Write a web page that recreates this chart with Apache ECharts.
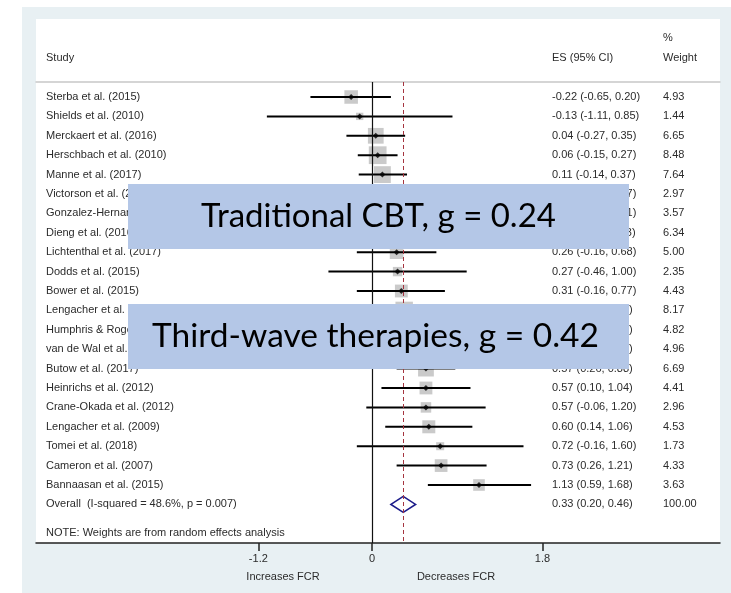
<!DOCTYPE html>
<html><head><meta charset="utf-8">
<script src="https://cdn.jsdelivr.net/npm/echarts@6/dist/echarts.min.js"></script>
<style>html,body{margin:0;padding:0;background:#fff}#c{width:731px;height:593px}</style>
</head><body><div id="c"></div>
<script>
// ---------- data ----------
const studies = [
  'Sterba et al. (2015)', 'Shields et al. (2010)', 'Merckaert et al. (2016)', 'Herschbach et al. (2010)',
  'Manne et al. (2017)', 'Victorson et al. (2016)', 'Gonzalez-Hernandez et al. (2018)', 'Dieng et al. (2016)',
  'Lichtenthal et al. (2017)', 'Dodds et al. (2015)', 'Bower et al. (2015)', 'Lengacher et al. (2016)',
  'Humphris & Rogers (2012)', 'van de Wal et al. (2017)', 'Butow et al. (2017)', 'Heinrichs et al. (2012)',
  'Crane-Okada et al. (2012)', 'Lengacher et al. (2009)', 'Tomei et al. (2018)', 'Cameron et al. (2007)',
  'Bannaasan et al. (2015)'
];
const es = [-0.22, -0.13, 0.04, 0.06, 0.11, 0.15, 0.19, 0.21, 0.26, 0.27, 0.31, 0.34, 0.45, 0.49, 0.57, 0.57, 0.57, 0.60, 0.72, 0.73, 1.13];
const ciLow = [-0.65, -1.11, -0.27, -0.15, -0.14, -0.47, -0.43, -0.11, -0.16, -0.46, -0.16, 0.09, 0.02, 0.07, 0.26, 0.10, -0.06, 0.14, -0.16, 0.26, 0.59];
const ciHigh = [0.20, 0.85, 0.35, 0.27, 0.37, 0.77, 0.81, 0.53, 0.68, 1.00, 0.77, 0.59, 0.88, 0.91, 0.88, 1.04, 1.20, 1.06, 1.60, 1.21, 1.68];
const weights = [4.93, 1.44, 6.65, 8.48, 7.64, 2.97, 3.57, 6.34, 5.00, 2.35, 4.43, 8.17, 4.82, 4.96, 6.69, 4.41, 2.96, 4.53, 1.73, 4.33, 3.63];
const overallEs = 0.33, overallLow = 0.20, overallHigh = 0.46, overallWeight = 100.00;
const overallLabel = 'Overall  (I-squared = 48.6%, p = 0.007)';
const noteText = 'NOTE: Weights are from random effects analysis';
const xTicks = [-1.2, 0, 1.8];
const overlayTexts = ['Traditional CBT, g = 0.24', 'Third-wave therapies, g = 0.42'];

// ---------- layout ----------
const FONT = '"Liberation Sans", Arial, sans-serif';
const TXT = '#2b2b2b';
const ROW_Y0 = 97, ROW_H = 19.4, GRID_TOP = 82, AXIS_Y = 543;
const yMin = (GRID_TOP - ROW_Y0) / ROW_H, yMax = (AXIS_Y - ROW_Y0) / ROW_H;
const X_MIN = -3.548, X_MAX = 3.675;
const COL_NAME = 46, COL_ES = 552, COL_W = 663;
const fmt = v => v.toFixed(2);
const esText = es.map((v, i) => fmt(v) + ' (' + fmt(ciLow[i]) + ', ' + fmt(ciHigh[i]) + ')');
const rows = studies.map((s, i) => i);
const overallRow = studies.length;

const chart = echarts.init(document.getElementById('c'));

function txt(x, y, text, extra) {
  return {
    type: 'text',
    style: Object.assign({
      x, y, text, fill: TXT, font: '11px ' + FONT,
      align: 'left', verticalAlign: 'middle', textAlign: 'left', textVerticalAlign: 'middle'
    }, extra || {})
  };
}

const option = {
  animation: false,
  grid: { left: 36, right: 11, top: GRID_TOP, bottom: 593 - AXIS_Y },
  xAxis: [{
    type: 'value', min: X_MIN, max: X_MAX, position: 'bottom',
    axisLine: { show: true, onZero: false, lineStyle: { color: '#222', width: 1.5 } },
    splitLine: { show: false },
    axisTick: { show: true, customValues: xTicks, length: 8, lineStyle: { color: '#222', width: 1.5 } },
    axisLabel: { customValues: xTicks, formatter: v => String(v), color: TXT, fontSize: 11, fontFamily: FONT, margin: 10 }
  }, {
    type: 'value', position: 'top', min: X_MIN, max: X_MAX,
    axisLine: { show: true, onZero: false, lineStyle: { color: '#c8c8c8', width: 1.5 } },
    axisTick: { show: false }, axisLabel: { show: false }, splitLine: { show: false }
  }],
  yAxis: { type: 'value', inverse: true, min: yMin, max: yMax, show: false },
  graphic: [
    { type: 'rect', z: -10, shape: { x: 22, y: 7, width: 709, height: 586 }, style: { fill: '#e8f0f3' } },
    { type: 'rect', z: -9, shape: { x: 36, y: 19, width: 684, height: AXIS_Y - 19 }, style: { fill: '#ffffff' } },
    txt(COL_NAME, 58, 'Study'),
    txt(COL_ES, 58, 'ES (95% CI)'),
    txt(COL_W, 38, '%'),
    txt(COL_W, 58, 'Weight'),
    txt(COL_NAME, 533, noteText),
    txt(283, 577, 'Increases FCR', { align: 'center', textAlign: 'center' }),
    txt(456, 577, 'Decreases FCR', { align: 'center', textAlign: 'center' }),
    { type: 'rect', z: 100, shape: { x: 128, y: 184, width: 501, height: 65 }, style: { fill: '#b4c7e7' } },
    Object.assign(txt(378.5, 216, overlayTexts[0], { align: 'center', textAlign: 'center', fill: '#000', font: '33px Lato, sans-serif' }), { z: 101 }),
    { type: 'rect', z: 100, shape: { x: 128, y: 304, width: 501, height: 65 }, style: { fill: '#b4c7e7' } },
    Object.assign(txt(375.5, 336, overlayTexts[1], { align: 'center', textAlign: 'center', fill: '#000', font: '33.5px Lato, sans-serif' }), { z: 101 })
  ],
  series: [
    {
      type: 'scatter', z: 2,
      data: rows.map(i => [es[i], i, weights[i]]),
      symbol: 'rect',
      symbolSize: d => 6.1 * Math.sqrt(d[2]),
      itemStyle: { color: '#bdbdbd' },
      silent: true,
      markLine: {
        silent: true, symbol: 'none', label: { show: false },
        data: [
          { xAxis: 0, lineStyle: { color: '#111', width: 1.2, type: 'solid' } },
          { xAxis: overallEs, lineStyle: { color: '#a5343f', width: 1, type: [4, 3] } }
        ]
      }
    },
    {
      type: 'custom', z: 3, clip: false,
      data: rows.map(i => [ciLow[i], ciHigh[i], i]),
      encode: { x: [0, 1], y: 2 },
      renderItem: (params, api) => {
        const a = api.coord([api.value(0), api.value(2)]);
        const b = api.coord([api.value(1), api.value(2)]);
        return { type: 'line', shape: { x1: a[0], y1: a[1], x2: b[0], y2: b[1] }, style: { stroke: '#000', lineWidth: 2 } };
      }
    },
    {
      type: 'scatter', z: 4,
      data: rows.map(i => [es[i], i]),
      symbol: 'diamond', symbolSize: 6,
      itemStyle: { color: '#000' }
    },
    {
      type: 'custom', z: 4, clip: false,
      data: [[overallLow, overallEs, overallHigh, overallRow]],
      encode: { x: [0, 1, 2], y: 3 },
      renderItem: (params, api) => {
        const r = api.value(3);
        const l = api.coord([api.value(0), r]);
        const c = api.coord([api.value(1), r]);
        const h = api.coord([api.value(2), r]);
        const half = 8;
        return {
          type: 'polygon',
          shape: { points: [[l[0], l[1]], [c[0], c[1] - half], [h[0], h[1]], [c[0], c[1] + half]] },
          style: { fill: 'rgba(255,255,255,0)', stroke: '#1c1c8a', lineWidth: 1.6 }
        };
      }
    },
    {
      type: 'custom', z: 5, clip: false,
      data: rows.map(i => [0, i]).concat([[0, overallRow]]),
      encode: { x: 0, y: 1 },
      renderItem: (params, api) => {
        const i = api.value(1);
        const y = api.coord([0, i])[1];
        const isOverall = i === overallRow;
        const name = isOverall ? overallLabel : studies[i];
        const e = isOverall ? fmt(overallEs) + ' (' + fmt(overallLow) + ', ' + fmt(overallHigh) + ')' : esText[i];
        const w = isOverall ? fmt(overallWeight) : fmt(weights[i]);
        return { type: 'group', children: [txt(COL_NAME, y, name), txt(COL_ES, y, e), txt(COL_W, y, w)] };
      }
    }
  ]
};
chart.setOption(option);
</script>
</body></html>
